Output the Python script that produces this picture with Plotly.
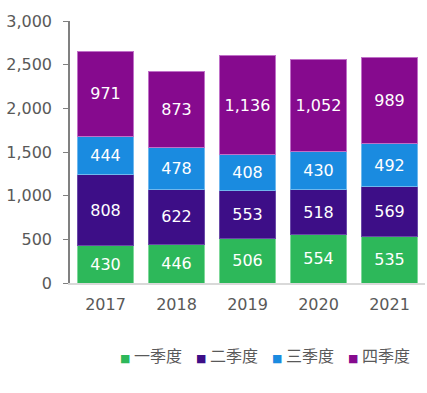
import plotly.graph_objects as go

years = ["2017", "2018", "2019", "2020", "2021"]
q1 = [430, 446, 506, 554, 535]
q2 = [808, 622, 553, 518, 569]
q3 = [444, 478, 408, 430, 492]
q4 = [971, 873, 1136, 1052, 989]
names = ["一季度", "二季度", "三季度", "四季度"]
colors = ["#2db85a", "#3d0e87", "#1a8be0", "#860a8e"]
edges = ["#7fd89a", "#6a4aa8", "#6fb8ee", "#c070c8"]

W, H = 427, 393
ML, MR, MT, MB = 70, 2, 21, 110

fig = go.Figure()
for name, vals, c, e in zip(names, [q1, q2, q3, q4], colors, edges):
    fig.add_trace(go.Bar(
        x=years, y=vals, name=name,
        marker=dict(color=c, line=dict(color=e, width=1)),
        text=[f"{v:,}" for v in vals], textposition="inside",
        insidetextanchor="middle",
        textfont=dict(color="white", size=16, family="DejaVu Sans"),
        showlegend=False,
    ))

# custom legend row (matches the compact original legend)
pw = W - ML - MR
ph = H - MT - MB
leg_x0, leg_step, leg_y = 118, 76, 355
for i, (name, c) in enumerate(zip(names, colors)):
    fig.add_annotation(
        xref="paper", yref="paper",
        x=(leg_x0 + i * leg_step - ML) / pw, y=(H - MB - leg_y) / ph,
        xanchor="left", yanchor="middle", showarrow=False,
        text=f"<span style='color:{c};font-family:DejaVu Sans;font-size:11px'>■ </span>{name}",
        font=dict(size=16, color="#595959", family="Noto Sans CJK SC"),
    )

fig.update_layout(
    barmode="stack", bargap=0.22,
    width=W, height=H,
    margin=dict(l=ML, r=MR, t=MT, b=MB),
    paper_bgcolor="white", plot_bgcolor="white",
    font=dict(family="DejaVu Sans", color="#595959", size=16),
    showlegend=False,
)
fig.update_yaxes(range=[0, 3000], dtick=500, tickformat=",", showgrid=False,
                 showline=True, linecolor="#808080", linewidth=1.5,
                 ticks="outside", ticklen=5, tickcolor="#808080",
                 ticklabelstandoff=8,
                 tickfont=dict(size=16, color="#595959"), zeroline=False,
                 automargin=False)
fig.update_xaxes(showline=True, linecolor="#d9d9d9", linewidth=1.5,
                 tickfont=dict(size=16, color="#595959"), ticks="outside",
                 ticklen=6, tickcolor="rgba(0,0,0,0)", automargin=False)

fig.write_html("out.html", config={"displayModeBar": False},
               post_script="document.body.style.margin='0';")
